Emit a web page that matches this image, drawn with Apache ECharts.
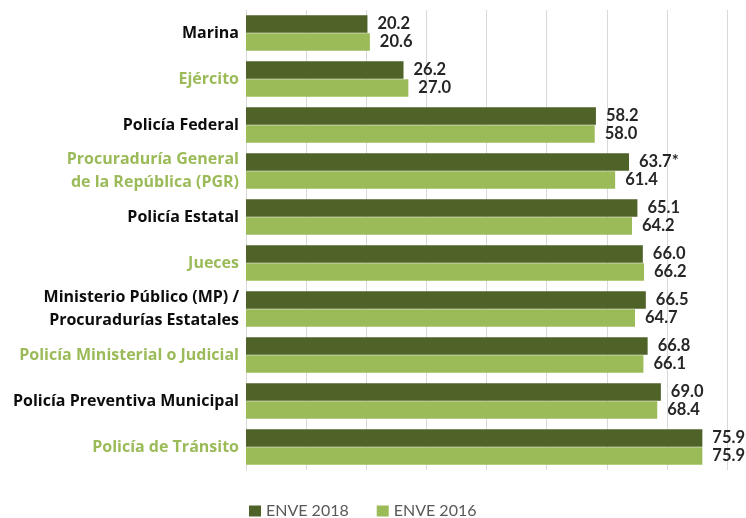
<!DOCTYPE html>
<html>
<head>
<meta charset="utf-8">
<script src="https://cdn.jsdelivr.net/npm/echarts@6/dist/echarts.min.js"></script>
<style>
  html, body { margin: 0; padding: 0; background: #fff; }
  #chart { width: 746px; height: 518px; }
</style>
</head>
<body>
<div id="chart"></div>
<script>
// 机构信任度对比（ENVE 2018 vs ENVE 2016）
const categories = [
  'Marina', 'Ejército', 'Policía Federal', 'Procuraduría General\nde la República (PGR)',
  'Policía Estatal', 'Jueces', 'Ministerio Público (MP) /\nProcuradurías Estatales',
  'Policía Ministerial o Judicial', 'Policía Preventiva Municipal', 'Policía de Tránsito'
];
const enve2018 = [20.2, 26.2, 58.2, 63.7, 65.1, 66.0, 66.5, 66.8, 69.0, 75.9];
const enve2016 = [20.6, 27.0, 58.0, 61.4, 64.2, 66.2, 64.7, 66.1, 68.4, 75.9];
const notes2018 = ['', '', '', '*', '', '', '', '', '', ''];
const axisTicks = { min: 0, max: 80, interval: 10 };

const DARK = '#4f6228', LIGHT = '#9bbb59';
const FONT = 'Lato, "Open Sans", sans-serif';
const CAT_FONT = '"Open Sans", Lato, sans-serif';

const chart = echarts.init(document.getElementById('chart'));
const valueLabel = notes => ({
  show: true, position: 'right', distance: 10,
  fontFamily: FONT, fontSize: 16.5, fontWeight: 'bold', color: '#262626',
  formatter: p => p.value.toFixed(1) + (notes ? notes[p.dataIndex] : '')
});
chart.setOption({
  animation: false,
  grid: { left: 246, right: 19, top: 10, bottom: 48, containLabel: false },
  legend: {
    data: ['ENVE 2018', 'ENVE 2016'], left: 249, top: 503, padding: 0,
    itemWidth: 12, itemHeight: 11, itemGap: 28, icon: 'rect',
    textStyle: { fontFamily: FONT, fontSize: 16, color: '#595959' }
  },
  xAxis: {
    type: 'value', min: axisTicks.min, max: axisTicks.max, interval: axisTicks.interval,
    axisLabel: { show: false }, axisLine: { show: false }, axisTick: { show: false },
    splitLine: { show: true, lineStyle: { color: '#d9d9d9', width: 1 } }
  },
  yAxis: {
    type: 'category', data: categories, inverse: true,
    axisLine: { show: true, lineStyle: { color: '#d9d9d9' } }, axisTick: { show: false },
    axisLabel: {
      margin: 7, fontFamily: CAT_FONT, fontSize: 16, fontWeight: 'bold', lineHeight: 23, align: 'right',
      color: (v, i) => (i % 2 === 0 ? '#0d0d0d' : LIGHT)
    }
  },
  series: [
    { name: 'ENVE 2018', type: 'bar', data: enve2018, barWidth: 17.5, barGap: '3%',
      itemStyle: { color: DARK }, label: valueLabel(notes2018) },
    { name: 'ENVE 2016', type: 'bar', data: enve2016, barWidth: 17.5,
      itemStyle: { color: LIGHT }, label: valueLabel(null) }
  ]
});
</script>
</body>
</html>
